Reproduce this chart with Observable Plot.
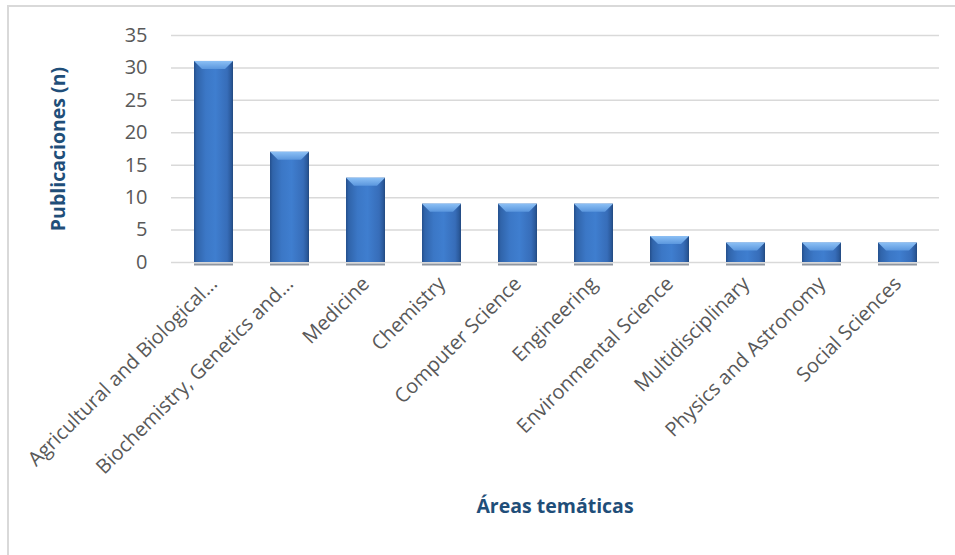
<!DOCTYPE html>
<html><head><meta charset="utf-8">
<script src="https://cdn.jsdelivr.net/npm/d3@7"></script>
<script src="https://cdn.jsdelivr.net/npm/@observablehq/plot@0.6"></script>
<style>
body{margin:0;background:#fff;font-family:"Open Sans",sans-serif;overflow:hidden;}
#frame{position:absolute;left:7px;top:5px;width:960px;height:560px;border-top:2px solid #d9d9d9;border-left:2px solid #d9d9d9;}
#chart{position:absolute;left:0;top:0;}
#xtitle{position:absolute;top:492px;left:171px;width:768px;text-align:center;font-weight:bold;font-size:19.5px;color:#1F4E79;font-family:"Open Sans",sans-serif;}
</style></head><body>
<div id="frame"></div>
<div id="chart"></div>
<div id="xtitle">Áreas temáticas</div>
<script>
const categories = ["Agricultural and Biological...", "Biochemistry, Genetics and...", "Medicine", "Chemistry", "Computer Science", "Engineering", "Environmental Science", "Multidisciplinary", "Physics and Astronomy", "Social Sciences"];
const values = [31, 17, 13, 9, 9, 9, 4, 3, 3, 3];
const yTicks = [0, 5, 10, 15, 20, 25, 30, 35];
const yTitle = "Publicaciones (n)";

const data = categories.map((c, i) => ({area: c, n: values[i]}));

const plot = Plot.plot({
  width: 955, height: 480,
  marginTop: 35, marginLeft: 171, marginRight: 16, marginBottom: 218,
  style: {fontFamily: "Open Sans, sans-serif", fontSize: "20px", color: "#595959", background: "transparent", overflow: "visible"},
  x: {domain: categories, paddingInner: 0.49, paddingOuter: 0.245, label: null, tickSize: 0, tickRotate: -45, tickPadding: 18},
  y: {domain: [0, 35], ticks: yTicks, label: null, tickSize: 0, tickPadding: 24},
  marks: [
    Plot.gridY(yTicks, {stroke: "#d9d9d9", strokeOpacity: 1, strokeWidth: 1.5}),
    Plot.tickY(data, {x: "area", y: 0, stroke: "#8f96a0", strokeWidth: 2, dy: 2}),
    Plot.barY(data, {x: "area", y: "n", fill: "url(#barGrad)"}),
    Plot.text([yTitle], {frameAnchor: "left", textAnchor: "middle", dx: -113, rotate: -90, fontWeight: "bold", fontSize: 19.5, fill: "#1F4E79"})
  ]
});

document.getElementById("chart").appendChild(plot);

const svg = d3.select(plot);
const defs = svg.insert("defs", ":first-child");
const g1 = defs.append("linearGradient").attr("id", "barGrad").attr("x1", 0).attr("x2", 1).attr("y1", 0).attr("y2", 0);
[[0, "#244f8c"], [0.07, "#3064aa"], [0.3, "#3b77c6"], [0.55, "#3f7ecf"], [0.85, "#376db9"], [0.95, "#2b5a9c"], [1, "#22497f"]]
  .forEach(([o, c]) => g1.append("stop").attr("offset", o).attr("stop-color", c));
const g2 = defs.append("linearGradient").attr("id", "bevelGrad").attr("x1", 0).attr("x2", 0).attr("y1", 0).attr("y2", 1);
[[0, "#8cc0f5"], [1, "#5b97de"]].forEach(([o, c]) => g2.append("stop").attr("offset", o).attr("stop-color", c));

// top bevel derived from the rendered bars
svg.selectAll("rect").each(function() {
  const r = d3.select(this);
  const fill = r.attr("fill") || (this.parentNode && this.parentNode.getAttribute("fill"));
  if (!fill || fill.indexOf("barGrad") < 0) return;
  const x = +r.attr("x"), y = +r.attr("y"), w = +r.attr("width"), h = +r.attr("height");
  const b = Math.min(8, h / 2);
  d3.select(this.parentNode).append("polygon")
    .attr("points", `${x},${y} ${x + w},${y} ${x + w - b},${y + b} ${x + b},${y + b}`)
    .attr("fill", "url(#bevelGrad)");
});
</script>
</body></html>
